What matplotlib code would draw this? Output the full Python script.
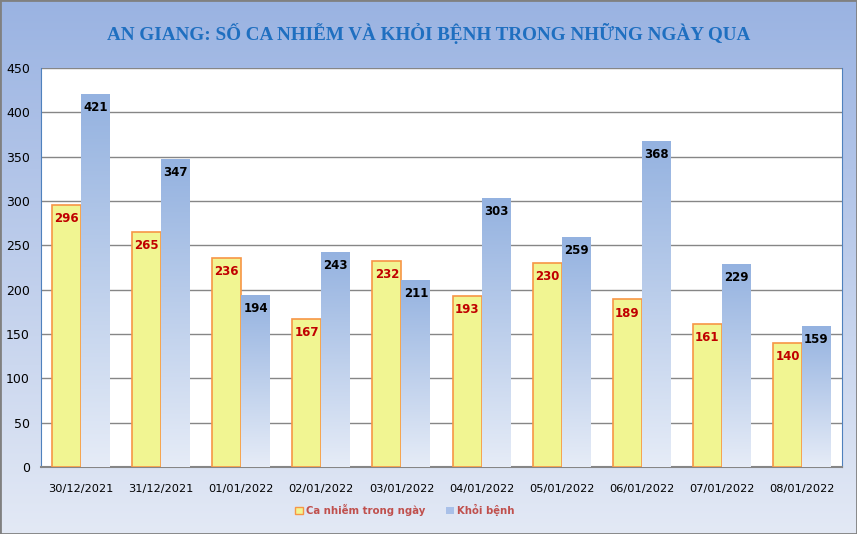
import numpy as np
import matplotlib
matplotlib.use("Agg")
import matplotlib.pyplot as plt
from matplotlib.colors import LinearSegmentedColormap
from matplotlib.patches import Rectangle

dates = ["30/12/2021", "31/12/2021", "01/01/2022", "02/01/2022", "03/01/2022",
         "04/01/2022", "05/01/2022", "06/01/2022", "07/01/2022", "08/01/2022"]
infected = [296, 265, 236, 167, 232, 193, 230, 189, 161, 140]
recovered = [421, 347, 194, 243, 211, 303, 259, 368, 229, 159]
yticks = [0, 50, 100, 150, 200, 250, 300, 350, 400, 450]
title = "AN GIANG: SỐ CA NHIỄM VÀ KHỎI BỆNH TRONG NHỮNG NGÀY QUA"
legend_labels = ["Ca nhiễm trong ngày", "Khỏi bệnh"]

W, H = 857, 534
fig = plt.figure(figsize=(W / 100, H / 100), dpi=100)

# figure background gradient
bg = fig.add_axes([0, 0, 1, 1], zorder=-10)
bg_cmap = LinearSegmentedColormap.from_list("bg", ["#9ab3e2", "#e3e9f5"])
bg.imshow(np.linspace(0, 1, 256).reshape(-1, 1), aspect="auto", cmap=bg_cmap,
          extent=[0, 1, 0, 1], origin="upper")
bg.add_patch(Rectangle((0, 0), 1, 1, fill=False, edgecolor="#808080", lw=2,
                       transform=bg.transAxes))
bg.set_axis_off()

ax = fig.add_axes([41 / W, (H - 467) / H, 801 / W, 399 / H])
ax.set_facecolor("white")
x = np.arange(len(dates))
bw = 0.362

ax.bar(x - bw / 2, infected, width=bw, color="#f1f592", edgecolor="#f79646",
       linewidth=1.2, zorder=3)

bar_cmap = LinearSegmentedColormap.from_list("bar", ["#94b2e0", "#e6ecf7"])
grad = np.linspace(0, 1, 256).reshape(-1, 1)
blue_bars = ax.bar(x + bw / 2, recovered, width=bw, color="none",
                   edgecolor="none", zorder=3)
for rect in blue_bars:
    x0, y0 = rect.get_x(), rect.get_y()
    w, h = rect.get_width(), rect.get_height()
    im = ax.imshow(grad, aspect="auto", cmap=bar_cmap, origin="upper",
                   extent=[x0, x0 + w, y0, y0 + h], zorder=3)
    im.set_clip_path(rect)

for xi, v in zip(x, infected):
    ax.text(xi - bw / 2, v - 8, str(v), ha="center", va="top", color="#c00000",
            fontsize=8.5, fontweight="bold", zorder=5)
for xi, v in zip(x, recovered):
    ax.text(xi + bw / 2, v - 8, str(v), ha="center", va="top", color="black",
            fontsize=8.5, fontweight="bold", zorder=5)

ax.set_xlim(-0.5, len(dates) - 0.5)
ax.set_ylim(0, 450)
ax.set_yticks(yticks)
ax.set_yticklabels([str(t) for t in yticks], fontsize=9)
ax.set_xticks(x)
ax.set_xticklabels(dates, fontsize=8.2)
ax.tick_params(axis="both", length=0)
ax.tick_params(axis="x", pad=12)
ax.tick_params(axis="y", pad=8)
ax.grid(axis="y", color="#868686", linewidth=1, zorder=0)
ax.set_axisbelow(True)
for s in ["left", "right", "top"]:
    ax.spines[s].set_color("#4f81bd")
ax.spines["top"].set_visible(False)
ax.spines["bottom"].set_color("#868686")
ax.spines["bottom"].set_linewidth(1.5)

fig.text(0.5, 1 - 33 / H, title, ha="center", va="center", color="#1f6fc0",
         fontsize=13.8, fontweight="bold", family="Liberation Serif")

# legend
h1 = Rectangle((0, 0), 1, 1, facecolor="#f1f592", edgecolor="#f79646")
h2 = Rectangle((0, 0), 1, 1, facecolor="#a9c0e8", edgecolor="none")
leg = fig.legend([h1, h2], legend_labels, loc="center", ncol=2,
                 bbox_to_anchor=(405 / W, 1 - 510 / H), frameon=False,
                 prop={"size": 7.3, "weight": "bold"}, handlelength=0.8,
                 handleheight=0.8, handletextpad=0.3, columnspacing=2.0)
for t in leg.get_texts():
    t.set_color("#c0504d")

fig.savefig("out.png", dpi=100)
